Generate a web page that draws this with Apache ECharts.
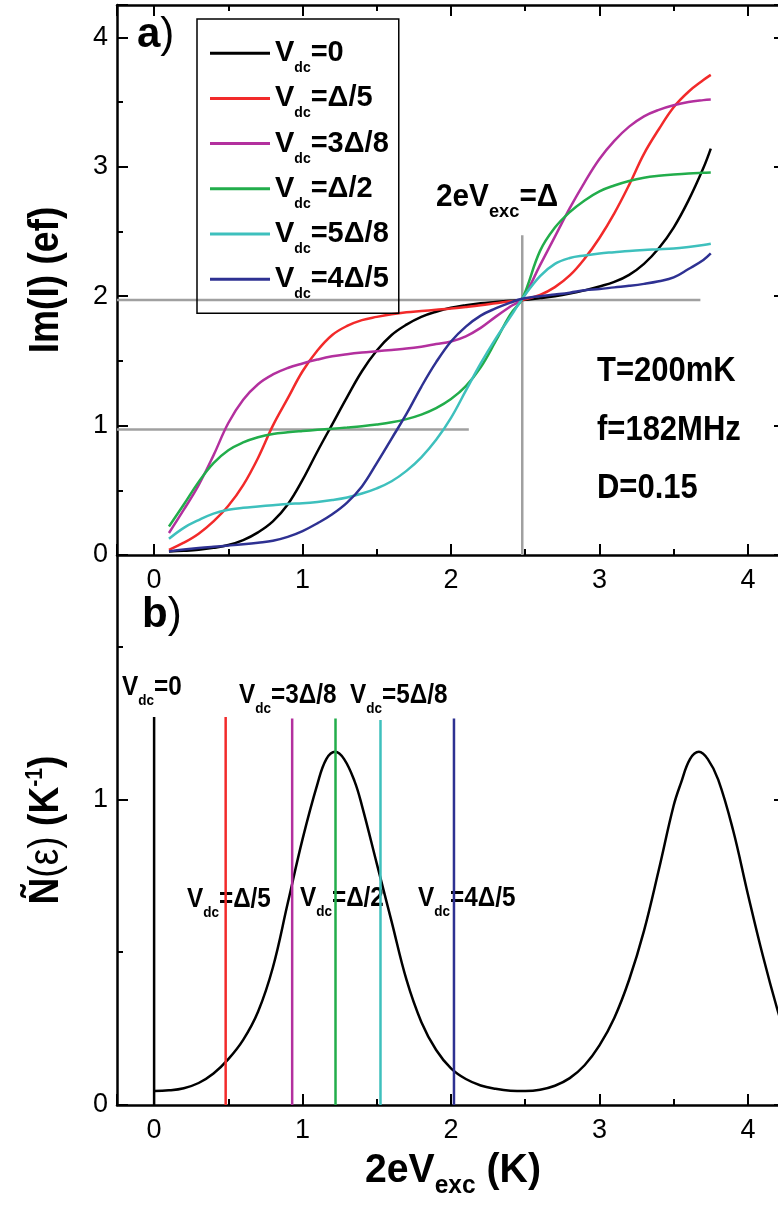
<!DOCTYPE html>
<html>
<head>
<meta charset="utf-8">
<script src="https://cdn.jsdelivr.net/npm/echarts@6/dist/echarts.min.js"></script>
<style>html,body{margin:0;padding:0;background:#fff}#c{width:778px;height:1209px}</style>
</head>
<body>
<div id="c"></div>
<script>
// ---------------- data ----------------
const legendNames = ['V_dc=0', 'V_dc=Δ/5', 'V_dc=3Δ/8', 'V_dc=Δ/2', 'V_dc=5Δ/8', 'V_dc=4Δ/5'];
const seriesColors = ['#000000', '#f22a2a', '#b3309e', '#22ad4b', '#3ec0bd', '#2e3192'];

// panel a : Im(I) vs 2eV_exc
const imX = [0.1,0.2,0.3,0.4,0.5,0.6,0.7,0.8,0.9,1.0,1.1,1.2,1.3,1.4,1.5,1.6,1.7,1.8,1.9,2.0,2.1,2.2,2.3,2.4,2.48,2.6,2.7,2.8,2.9,3.0,3.1,3.2,3.3,3.4,3.5,3.6,3.7,3.75];
const imVdc0   = [0.027,0.032,0.040,0.055,0.077,0.115,0.175,0.26,0.39,0.58,0.80,1.01,1.22,1.42,1.58,1.70,1.78,1.84,1.88,1.91,1.93,1.945,1.955,1.965,1.97,1.985,2.0,2.02,2.045,2.075,2.11,2.165,2.25,2.37,2.53,2.74,2.99,3.14];
const imVdc1_5 = [0.04,0.095,0.165,0.26,0.38,0.54,0.75,1.0,1.21,1.42,1.58,1.70,1.77,1.815,1.84,1.86,1.875,1.885,1.895,1.905,1.917,1.93,1.945,1.96,1.97,2.01,2.07,2.16,2.29,2.45,2.64,2.86,3.10,3.29,3.46,3.58,3.67,3.71];
const imVdc3_8 = [0.17,0.35,0.54,0.77,1.02,1.20,1.32,1.395,1.445,1.48,1.51,1.535,1.552,1.565,1.575,1.585,1.595,1.61,1.63,1.65,1.69,1.755,1.84,1.92,1.98,2.24,2.46,2.68,2.88,3.06,3.20,3.31,3.39,3.44,3.475,3.50,3.515,3.52];
const imVdc1_2 = [0.22,0.39,0.565,0.71,0.81,0.87,0.91,0.935,0.948,0.958,0.967,0.976,0.985,0.995,1.008,1.025,1.05,1.085,1.135,1.205,1.305,1.45,1.65,1.86,1.98,2.35,2.53,2.65,2.74,2.81,2.855,2.89,2.915,2.93,2.94,2.948,2.953,2.955];
const imVdc5_8 = [0.125,0.21,0.27,0.32,0.35,0.365,0.375,0.385,0.395,0.40,0.41,0.425,0.445,0.475,0.515,0.57,0.65,0.755,0.89,1.06,1.27,1.48,1.67,1.84,1.98,2.155,2.25,2.295,2.315,2.33,2.34,2.35,2.357,2.362,2.368,2.38,2.395,2.405];
const imVdc4_5 = [0.028,0.042,0.054,0.064,0.073,0.083,0.095,0.11,0.14,0.185,0.245,0.315,0.405,0.53,0.71,0.90,1.09,1.30,1.49,1.65,1.765,1.85,1.905,1.95,1.98,2.0,2.013,2.027,2.045,2.055,2.068,2.08,2.095,2.115,2.145,2.21,2.28,2.33];

// grey guide lines of panel a
const guideUpper = [[-0.25, 1.97], [3.68, 1.97]];
const guideLower = [[-0.25, 0.97], [2.12, 0.97]];
const guideVert  = [[2.48, 0], [2.48, 2.47]];

// panel b : N(eps)
const dosX = [0,0.1,0.2,0.3,0.4,0.5,0.6,0.7,0.8,0.9,1.0,1.1,1.16,1.22,1.28,1.35,1.4,1.5,1.6,1.7,1.8,1.9,2.0,2.1,2.2,2.3,2.4,2.5,2.6,2.7,2.8,2.9,3.0,3.1,3.2,3.3,3.4,3.5,3.55,3.61,3.67,3.73,3.8,3.9,4.0,4.1,4.2,4.25];
const dosY = [0.046,0.048,0.055,0.072,0.103,0.15,0.213,0.305,0.45,0.66,0.87,1.05,1.132,1.156,1.132,1.06,0.98,0.79,0.60,0.41,0.272,0.18,0.12,0.085,0.064,0.053,0.047,0.046,0.05,0.063,0.088,0.13,0.195,0.285,0.41,0.57,0.77,0.98,1.055,1.132,1.156,1.132,1.065,0.90,0.69,0.49,0.31,0.235];
const vdcPos = [0, 0.482, 0.93, 1.222, 1.525, 2.02];
const vdcTop = [1.27, 1.27, 1.265, 1.265, 1.26, 1.265];

// ---------------- text helpers ----------------
const mctx = document.createElement('canvas').getContext('2d');
const MID = 0.3465; // middle->alphabetic baseline offset (em)
function textRun(parts, sx) {
  let x = 0; const ch = [];
  parts.forEach(p => {
    const [t, fs, w, dy, fam] = p;
    const font = w + ' ' + fs + 'px "' + (fam || 'Liberation Sans') + '"';
    ch.push({type: 'text', x: x, y: dy - MID * fs, scaleX: sx, silent: true,
      style: {text: t, font: font, fill: '#000', align: 'left', verticalAlign: 'middle'}});
    mctx.font = font; x += mctx.measureText(t).width * sx;
  });
  return {children: ch, width: x};
}
function hLabel(parts, x0, base, sx) {
  return {type: 'group', x: x0, y: base, children: textRun(parts, sx).children};
}
function vLabel(parts, bx, cy, sx) {
  const r = textRun(parts, sx);
  return {type: 'group', x: bx, y: cy + r.width / 2, rotation: Math.PI / 2, children: r.children};
}
function vdcParts(rest, fs, sfs, d) {
  return [['V', fs, 'bold', 0], ['dc', sfs, 'bold', d], [rest, fs, 'bold', 0]];
}

// legend font
const LF = 'Liberation Sans';
const LFS = 29;
const LSFS = 14;
const LPAD = 2 * (10 + MID * (LFS - LSFS));

// ---------------- axes ----------------
function axisBase(extra) {
  return Object.assign({
    type: 'value',
    axisLine: {show: true, onZero: false, lineStyle: {color: '#000', width: 2.5}},
    axisTick: {show: true, inside: true, length: 11, lineStyle: {color: '#000', width: 2}},
    minorTick: {show: true, splitNumber: 2, length: 6, lineStyle: {color: '#000', width: 2}},
    splitLine: {show: false},
    minorSplitLine: {show: false}
  }, extra);
}
const labelStyle = {color: '#000', fontSize: 27, fontFamily: 'Liberation Sans', showMinLabel: false, showMaxLabel: false};
const X_MIN = -0.25, X_MAX = 4.25;

const xAxis = [
  axisBase({gridIndex: 0, position: 'bottom', min: X_MIN, max: X_MAX, axisLabel: Object.assign({margin: 12}, labelStyle)}),
  axisBase({gridIndex: 0, position: 'top', min: X_MIN, max: X_MAX, axisLabel: {show: false}}),
  axisBase({gridIndex: 1, position: 'bottom', min: X_MIN, max: X_MAX, axisLabel: Object.assign({margin: 12}, labelStyle)})
];
const yAxis = [
  axisBase({gridIndex: 0, position: 'left', min: 0, max: 4.25, interval: 1, axisLabel: Object.assign({margin: 9}, labelStyle, {showMinLabel: true})}),
  axisBase({gridIndex: 0, position: 'right', min: 0, max: 4.25, interval: 1, axisLabel: {show: false}}),
  axisBase({gridIndex: 1, position: 'left', min: 0, max: 1.8, interval: 1, axisLabel: Object.assign({margin: 9}, labelStyle, {showMinLabel: true})}),
  axisBase({gridIndex: 1, position: 'right', min: 0, max: 1.8, interval: 1, axisLabel: {show: false}})
];

// ---------------- series ----------------
const imCurves = [imVdc0, imVdc1_5, imVdc3_8, imVdc1_2, imVdc5_8, imVdc4_5];
const series = [];
function guide(d) {
  return {type: 'line', xAxisIndex: 0, yAxisIndex: 0, data: d, symbol: 'none', silent: true, z: 2,
    lineStyle: {color: '#a0a0a0', width: 2.5}, color: '#a0a0a0'};
}
series.push(guide(guideUpper), guide(guideLower), guide(guideVert));
imCurves.forEach((ys, i) => {
  series.push({
    type: 'line', name: legendNames[i], xAxisIndex: 0, yAxisIndex: 0,
    data: imX.map((x, j) => [x, ys[j]]),
    symbol: 'none', showSymbol: false, smooth: 0.4, z: 3,
    color: seriesColors[i], itemStyle: {color: seriesColors[i]},
    lineStyle: {color: seriesColors[i], width: 2.5}
  });
});
series.push({
  type: 'line', name: 'N(eps)', xAxisIndex: 2, yAxisIndex: 2,
  data: dosX.map((x, j) => [x, dosY[j]]),
  symbol: 'none', smooth: 0.4, z: 3,
  color: '#000', lineStyle: {color: '#000', width: 2.5}
});
vdcPos.forEach((x, i) => {
  series.push({
    type: 'line', name: 'marker' + i, xAxisIndex: 2, yAxisIndex: 2,
    data: [[x, 0], [x, vdcTop[i]]], symbol: 'none', z: 3,
    color: seriesColors[i], lineStyle: {color: seriesColors[i], width: 2.5}
  });
});

// ---------------- annotations ----------------
const SX = 0.885;
const graphic = [
  hLabel([['a', 42, 'bold', 0], [')', 42, 'normal', 0]], 137, 50, 1),
  hLabel([['b', 42, 'bold', 0], [')', 42, 'normal', 0]], 142, 630, 1),
  hLabel([['2eV', 31, 'bold', 0], ['exc', 19, 'bold', 10], ['=Δ', 31, 'bold', 0]], 436, 208, 0.96),
  hLabel([['T=200mK', 35, 'bold', 0]], 597, 383, SX),
  hLabel([['f=182MHz', 35, 'bold', 0]], 597, 442, SX),
  hLabel([['D=0.15', 35, 'bold', 0]], 597, 500, SX),
  hLabel(vdcParts('=0', 27, 15, 9), 122, 697, 0.9),
  hLabel(vdcParts('=3Δ/8', 27, 15, 9), 239, 705, 0.9),
  hLabel(vdcParts('=5Δ/8', 27, 15, 9), 350, 705, 0.9),
  hLabel(vdcParts('=Δ/5', 27, 15, 9), 187, 909, 0.9),
  hLabel(vdcParts('=Δ/2', 27, 15, 9), 300, 908, 0.9),
  hLabel(vdcParts('=4Δ/5', 27, 15, 9), 418, 908, 0.9),
  vLabel([['Im(I) (ef)', 42, 'bold', 0]], 61, 280, SX),
  vLabel([['Ñ', 42, 'bold', 0], ['(ε)', 42, 'normal', 0], [' (K', 42, 'bold', 0], ['-1', 24, 'bold', -17], [')', 42, 'bold', 0]], 61, 830, SX),
  hLabel([['2eV', 40, 'bold', 0], ['exc', 25, 'bold', 10], [' (K)', 40, 'bold', 0]], 365, 1185, 0.98)
];

const option = {
  animation: false,
  backgroundColor: '#ffffff',
  grid: [
    {left: 117, top: 5, width: 668, height: 550, containLabel: false, outerBoundsMode: 'none'},
    {left: 117, top: 555, width: 668, height: 550, containLabel: false, outerBoundsMode: 'none'}
  ],
  xAxis: xAxis,
  yAxis: yAxis,
  legend: {
    data: legendNames, orient: 'vertical', left: 197, top: 19,
    padding: [12, 10, 12, 13], borderColor: '#000', borderWidth: 1.5,
    itemWidth: 60, itemHeight: 3, itemGap: 0.8, icon: 'rect', selectedMode: false,
    formatter: n => '{v|V}{s|dc}{v|' + n.split('_dc')[1] + '}',
    textStyle: {
      rich: {
        v: {fontFamily: LF, fontWeight: 'bold', fontSize: LFS, lineHeight: 36, color: '#000'},
        s: {fontFamily: LF, fontWeight: 'bold', fontSize: LSFS, lineHeight: 36, color: '#000', padding: [LPAD, 0, 0, 0]}
      }
    }
  },
  series: series,
  graphic: graphic
};

const chart = echarts.init(document.getElementById('c'), null, {renderer: 'canvas'});
chart.setOption(option);
</script>
</body>
</html>
